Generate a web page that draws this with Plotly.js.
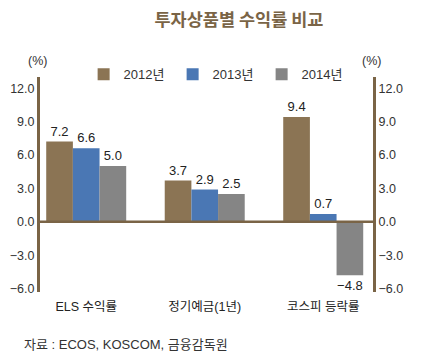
<!DOCTYPE html>
<html><head><meta charset="utf-8">
<script src="https://cdn.plot.ly/plotly-3.0.1.min.js"></script>
<style>body{margin:0;background:#fff}#c{width:423px;height:357px}</style>
</head><body><div id="c"></div>
<script>
const categories = ["ELS 수익률", "정기예금(1년)", "코스피 등락률"];
const seriesNames = ["2012년", "2013년", "2014년"];
const values2012 = [7.2, 3.7, 9.4];
const values2013 = [6.6, 2.9, 0.7];
const values2014 = [5.0, 2.5, -4.8];
const yTicks = [-6, -3, 0, 3, 6, 9, 12];

const colors = ["#8b7454", "#4a77b4", "#858585"];
const font = "Liberation Sans, Arial, Noto Sans CJK KR, sans-serif";
const allVals = [values2012, values2013, values2014];
const fmt = v => (v < 0 ? "\u2212" + Math.abs(v).toFixed(1) : v.toFixed(1));

const traces = allVals.map((vals, i) => ({
  type: "bar", x: categories, y: vals, name: seriesNames[i],
  marker: {color: colors[i], line: {width: 0}},
  text: vals.map(fmt), textposition: "outside", cliponaxis: false,
  textfont: {family: font, size: 13, color: "#222"}
}));
traces.push({type: "scatter", x: [categories[0]], y: [0], yaxis: "y2",
  mode: "markers", marker: {opacity: 0}, showlegend: false, hoverinfo: "skip"});

const tickText = yTicks.map(fmt);
const yax = {
  range: [-6.3, 13], tickvals: yTicks, ticktext: tickText,
  showgrid: false, showline: true, linecolor: "#7a6446", linewidth: 3,
  ticks: "", zeroline: false, fixedrange: true,
  tickfont: {family: font, size: 12.5, color: "#333"}
};

const layout = {
  width: 423, height: 357,
  margin: {l: 40, r: 50, t: 77, b: 65},
  paper_bgcolor: "#fff", plot_bgcolor: "#fff",
  barmode: "group", bargap: 0.325, bargroupgap: 0,
  showlegend: true,
  legend: {orientation: "h", x: 0.131, xanchor: "left", y: 1.012, yanchor: "middle",
    font: {family: font, size: 13, color: "#333"}, itemwidth: 30,
    entrywidth: 44, tracegroupgap: 0, bgcolor: "rgba(0,0,0,0)"},
  title: {text: "<b>투자상품별 수익률 비교</b>", x: 0.565, xanchor: "center",
    y: 0.945, yanchor: "middle", font: {family: "Noto Sans CJK KR", size: 17.5, color: "#7a6446"}},
  xaxis: {type: "category", range: [-0.39, 2.42], showline: false, showgrid: false,
    ticks: "", fixedrange: true, ticklabelstandoff: 5,
    tickfont: {family: font, size: 12.5, color: "#222"}},
  yaxis: Object.assign({}, yax, {side: "left"}),
  yaxis2: Object.assign({}, yax, {side: "right", overlaying: "y"}),
  shapes: [{type: "line", xref: "paper", yref: "y", x0: 0, x1: 1, y0: 0, y1: 0,
    line: {color: "#7a6446", width: 2.5}}],
  annotations: [
    {text: "(%)", xref: "paper", yref: "paper", x: -0.008, y: 1.075, xanchor: "center", yanchor: "middle",
      showarrow: false, font: {family: font, size: 12.5, color: "#333"}},
    {text: "(%)", xref: "paper", yref: "paper", x: 0.995, y: 1.075, xanchor: "center", yanchor: "middle",
      showarrow: false, font: {family: font, size: 12.5, color: "#333"}},
    {text: "자료 : ECOS, KOSCOM, 금융감독원", xref: "paper", yref: "paper", x: -0.055, y: -0.245,
      xanchor: "left", yanchor: "middle", showarrow: false,
      font: {family: font, size: 13, color: "#333"}}
  ]
};
Plotly.newPlot("c", traces, layout, {displayModeBar: false, staticPlot: true});
</script></body></html>
